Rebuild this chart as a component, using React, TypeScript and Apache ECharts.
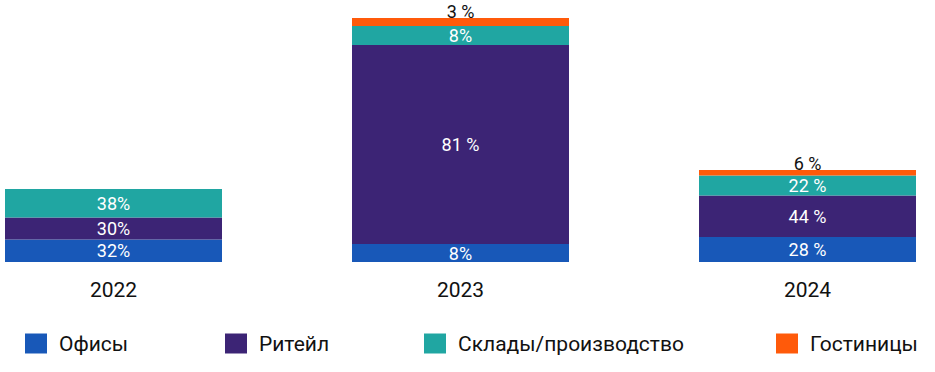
import React, { useEffect, useRef } from "react";
import * as echarts from "echarts";

const years = ["2022", "2023", "2024"];
const seriesNames = ["Офисы", "Ритейл", "Склады/производство", "Гостиницы"];
const offices = [22.5, 18, 25];
const retail = [22, 199, 41.5];
const warehouses = [28.5, 19, 20];
const hotels = [0, 8, 5.5];
const officesLabels = ["32%", "8%", "28 %"];
const retailLabels = ["30%", "81 %", "44 %"];
const warehousesLabels = ["38%", "8%", "22 %"];
const hotelsLabels = ["", "3 %", "6 %"];

const colors = ["#1858B8", "#3C2475", "#20A6A2", "#FF5A0A"];
const legendLefts = [25, 225, 424, 776];
const FONT = "Roboto, sans-serif";
const OFFSET = 60;

export default function App() {
  const ref = useRef<HTMLDivElement>(null);
  useEffect(() => {
    if (!ref.current) return;
    const chart = echarts.init(ref.current, undefined, { renderer: "svg" });
    const values = [offices, retail, warehouses, hotels];
    const labels = [officesLabels, retailLabels, warehousesLabels, hotelsLabels];
    const series = values.map((vals, i) => ({
      name: seriesNames[i],
      type: "bar",
      stack: "total",
      barWidth: 217,
      data: vals,
      itemStyle: { color: colors[i] },
      label: {
        show: true,
        position: i === 3 ? "top" : "inside",
        distance: i === 3 ? -2 : 5,
        color: i === 3 ? "#111111" : "#ffffff",
        fontFamily: FONT,
        fontSize: 18,
        formatter: (p: any) => labels[i][p.dataIndex],
      },
    }));
    const legends = seriesNames.map((name, i) => ({
      data: [name],
      left: legendLefts[i] + OFFSET,
      top: 333,
      padding: 0,
      itemWidth: 22,
      itemHeight: 20,
      icon: "rect",
      textStyle: { color: "#111111", fontFamily: FONT, fontSize: 21, padding: [0, 0, 0, 7] },
    }));
    chart.setOption({
      animation: false,
      color: colors,
      grid: { left: 0, right: 0, top: 12, bottom: 110 },
      xAxis: {
        type: "category",
        data: years,
        axisLine: { show: false },
        axisTick: { show: false },
        axisLabel: { color: "#111111", fontFamily: FONT, fontSize: 21, margin: 17 },
      },
      yAxis: {
        type: "value",
        min: 0,
        max: 250,
        show: false,
        splitLine: { show: false },
      },
      legend: legends,
      series,
    });
    return () => chart.dispose();
  }, []);
  return (
    <div style={{ position: "fixed", left: 0, top: 0, width: 935, height: 372, overflow: "hidden", background: "#ffffff" }}>
      <div
        ref={ref}
        style={{ position: "absolute", left: -OFFSET, top: 0, width: 1041, height: 372 }}
      />
    </div>
  );
}
